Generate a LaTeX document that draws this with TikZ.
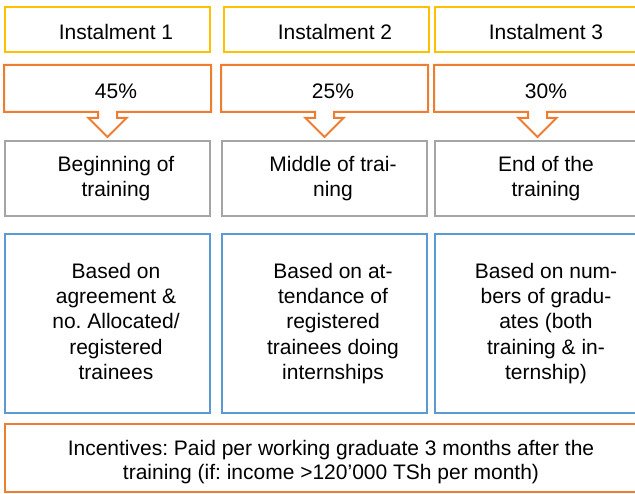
\documentclass[tikz,border=0pt]{standalone}
\usepackage{fontspec}
\setmainfont{Liberation Sans}
\usetikzlibrary{calc}
\definecolor{instyellow}{HTML}{FFC000}
\definecolor{instorange}{HTML}{ED7D31}
\definecolor{instgray}{HTML}{A5A5A5}
\definecolor{instblue}{HTML}{5B9BD5}
\frenchspacing

\begin{document}
\begin{tikzpicture}[x=1pt,y=-1pt,line width=2pt,
	font=\fontsize{21}{25.3}\selectfont,
	lines/.style 2 args={inner sep=0pt,align=center,yshift=#1,
		font=\fontsize{21}{#2}\selectfont,
		execute at begin node=\strut,execute at end node=\strut},
	box/.style n args={3}{inner sep=0pt,minimum width=205pt,
		label={[lines={#2}{#3},xshift=8.5pt]center:#1}},
	title/.style={box={#1}{-5.4pt}{25.3},draw=instyellow,minimum height=45pt},
	share/.style={box={#1}{-4.7pt}{25.3},minimum height=45pt},
	stage/.style={box={#1}{-1.3pt}{25},draw=instgray,minimum height=75pt},
	basis/.style={box={#1}{-1.4pt}{25.35},draw=instblue,minimum height=179pt},
	callout/.style={draw=instorange,line join=miter}]
	\useasboundingbox (0,0) rectangle (635,494);
	\clip (0,0) rectangle (635,494);
	%
	%  INSTALMENTS
	%
	\node[title={Instalment 1}] (I1) at (107.5,29.5) {};
	\node[title={Instalment 2}] (I2) at (326.5,29.5) {};
	\node[title={Instalment 3}] (I3) at (537.5,29.5) {};
	%
	%  SHARES
	%
	\node[share={45\%}] (P1) at (107.5,88.5) {};
	\node[share={25\%}] (P2) at (324.5,88.5) {};
	\node[share={30\%}] (P3) at (537.5,88.5) {};
	\foreach \p in {P1,P2,P3}
	\draw[callout] (\p.south west) -- (\p.north west) -- (\p.north east) -- (\p.south east)
		-- ($(\p.south)+(9.5,0)$) -- ++(0,6) -- ++(9.5,0) -- ++(-19,19) coordinate (\p tip)
		-- ++(-19,-19) -- ++(9.5,0) -- ++(0,-6) -- cycle;
	%
	%  STAGES
	%
	\node[stage={Beginning of\\training}] (S1) at (107.5,178.5) {};
	\node[stage={Middle of trai-\\ning}] (S2) at (324.5,178.5) {};
	\node[stage={End of the\\training}] (S3) at (537.5,178.5) {};
	%
	\node[basis={Based on\\agreement \&\\no. Allocated/\\registered\\trainees}] (B1) at (107.5,323.5) {};
	\node[basis={Based on at-\\tendance of\\registered\\trainees doing\\internships}] (B2) at (324.5,323.5) {};
	\node[basis={Based on num-\\bers of gradu-\\ates (both\\training \& in-\\ternship)}] (B3) at (537.5,323.5) {};
	%
	%  INCENTIVES
	%
	\node[draw=instorange,inner sep=0pt,minimum width=652pt,minimum height=68pt,
		label={[lines={-5.2pt}{24}]center:{Incentives: Paid per working graduate 3 months after the\\training (if: income >120’000 TSh per month)}}] (Inc) at (331,458) {};
\end{tikzpicture}
\end{document}
